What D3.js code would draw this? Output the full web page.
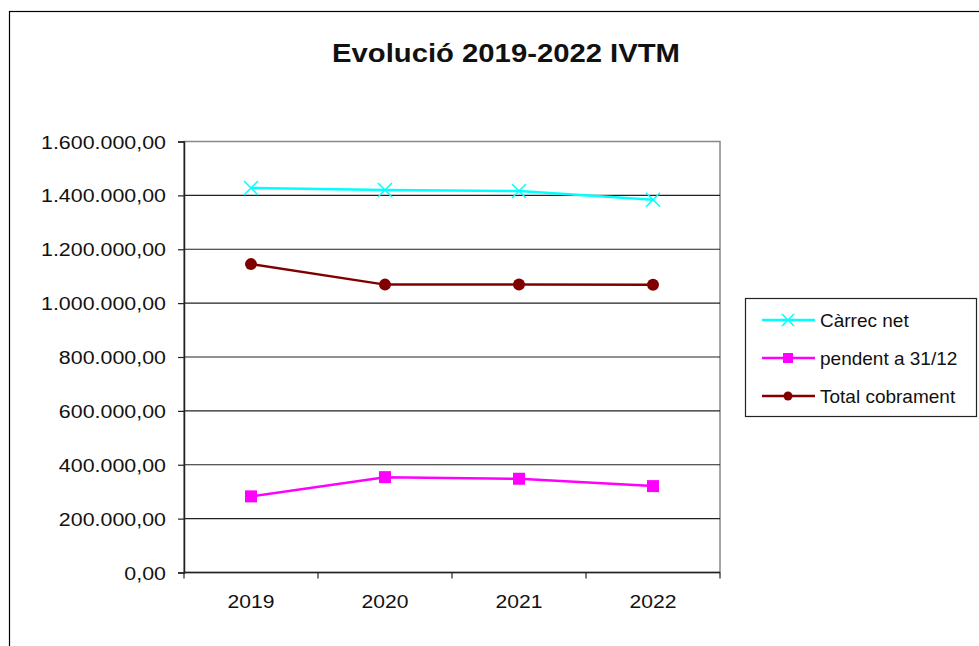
<!DOCTYPE html>
<html><head><meta charset="utf-8">
<script src="https://cdn.jsdelivr.net/npm/d3@7"></script>
<style>body{margin:0;background:#fff}svg{display:block}</style>
</head><body>
<script>
const categories = ["2019","2020","2021","2022"];
const carrecNet = [1427400, 1419900, 1416100, 1383900];
const pendent = [282600, 354000, 348000, 320700];
const totalCobrament = [1144800, 1068700, 1069500, 1068000];
const yTicks = [0,200000,400000,600000,800000,1000000,1200000,1400000,1600000];
const seriesNames = ["Càrrec net","pendent a 31/12","Total cobrament"];

const W=979,H=646;
const FONT="Liberation Sans, Arial, sans-serif";
const svg=d3.select("body").append("svg").attr("width",W).attr("height",H);
svg.append("rect").attr("width",W).attr("height",H).attr("fill","#fff");
svg.append("rect").attr("x",9.5).attr("y",11.5).attr("width",W+10).attr("height",H+10)
  .attr("fill","none").attr("stroke","#000").attr("stroke-width",1.2);

svg.append("text").attr("x",506).attr("y",62).attr("text-anchor","middle")
  .attr("font-family",FONT).attr("font-weight","bold")
  .attr("font-size",26).attr("textLength",348).attr("lengthAdjust","spacingAndGlyphs")
  .attr("fill","#111").text("Evolució 2019-2022 IVTM");

const L=184,R=720,T=141.5,B=572.5;
const x=d3.scaleBand().domain(categories).range([L,R]);
const y=d3.scaleLinear().domain([0,1600000]).range([B,T]);
const fmt=v=>{const s=d3.format(",.2f")(v);return s.replace(/,/g,"#").replace(/\./g,",").replace(/#/g,".");};

// plot frame
svg.append("rect").attr("x",L).attr("y",T).attr("width",R-L).attr("height",B-T)
  .attr("fill","#fff").attr("stroke","#888").attr("stroke-width",1.5);
// gridlines
svg.append("g").selectAll("line").data(yTicks.filter(v=>v>0&&v<1600000)).join("line")
  .attr("x1",L).attr("x2",R).attr("y1",d=>y(d)).attr("y2",d=>y(d))
  .attr("stroke","#222").attr("stroke-width",1.2);

const yAxis=svg.append("g").attr("transform",`translate(${L},0)`)
  .call(d3.axisLeft(y).tickValues(yTicks).tickFormat(fmt).tickSize(6));
yAxis.select(".domain").attr("stroke","#222").attr("stroke-width",1.5);
yAxis.selectAll(".tick line").attr("stroke","#222").attr("stroke-width",1.2);
yAxis.selectAll(".tick text").attr("x",null).attr("dy",null)
  .attr("transform","translate(-18,6.5) scale(1.127,1)")
  .attr("font-family",FONT).attr("font-size",19).attr("fill","#111");

const xAxis=svg.append("g").attr("transform",`translate(0,${B})`);
xAxis.append("line").attr("x1",L).attr("x2",R).attr("stroke","#222").attr("stroke-width",1.5);
const bounds=[...categories.map(c=>x(c)),R];
xAxis.selectAll("line.t").data(bounds).join("line").attr("class","t")
  .attr("x1",d=>d).attr("x2",d=>d).attr("y1",0).attr("y2",6).attr("stroke","#222").attr("stroke-width",1.2);
xAxis.selectAll("text").data(categories).join("text")
  .attr("transform",d=>`translate(${x(d)+x.bandwidth()/2},35) scale(1.11,1)`).attr("text-anchor","middle")
  .attr("font-family",FONT).attr("font-size",19).attr("fill","#111").text(d=>d);

const cx=c=>x(c)+x.bandwidth()/2;
const line=d3.line().x((d,i)=>cx(categories[i])).y(d=>y(d));
const series=[
 {name:seriesNames[0],vals:carrecNet,color:"#00FFFF",m:"x"},
 {name:seriesNames[1],vals:pendent,color:"#FF00FF",m:"sq"},
 {name:seriesNames[2],vals:totalCobrament,color:"#800000",m:"c"}];

function marker(g,type,color,px,py,big){
  if(type==="x"){const s=big?7:6;
    g.append("path").attr("d",`M${px-s},${py-s}L${px+s},${py+s}M${px-s},${py+s}L${px+s},${py-s}`)
     .attr("stroke",color).attr("stroke-width",1.5).attr("fill","none");}
  else if(type==="sq"){const s=big?6:5;
    g.append("rect").attr("x",px-s).attr("y",py-s).attr("width",2*s).attr("height",2*s).attr("fill",color);}
  else {g.append("circle").attr("cx",px).attr("cy",py).attr("r",big?6:4.5).attr("fill",color);}
}
series.forEach(s=>{
  svg.append("path").attr("d",line(s.vals)).attr("fill","none").attr("stroke",s.color).attr("stroke-width",2.5);
  const g=svg.append("g");
  s.vals.forEach((v,i)=>marker(g,s.m,s.color,cx(categories[i]),y(v),true));
});

// legend
const lg=svg.append("g");
lg.append("rect").attr("x",745.5).attr("y",298.5).attr("width",231).attr("height",118)
  .attr("fill","#fff").attr("stroke","#222").attr("stroke-width",1.2);
series.forEach((s,i)=>{
  const ly=320+i*38;
  lg.append("line").attr("x1",762).attr("x2",815).attr("y1",ly).attr("y2",ly).attr("stroke",s.color).attr("stroke-width",2.5);
  marker(lg,s.m,s.color,788,ly,false);
  lg.append("text").attr("x",820).attr("y",ly+7).attr("font-family",FONT)
    .attr("font-size",19).attr("fill","#111").text(s.name);
});
</script>
</body></html>
